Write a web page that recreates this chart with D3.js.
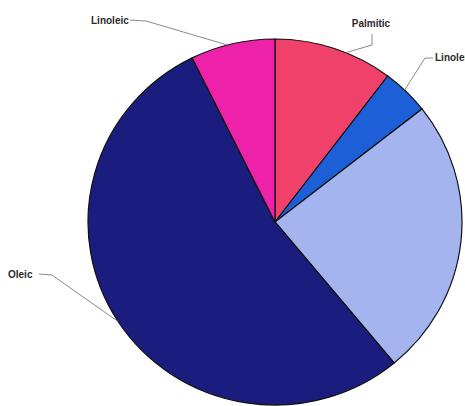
<!DOCTYPE html>
<html>
<head>
<meta charset="utf-8">
<script src="https://cdn.jsdelivr.net/npm/d3@7"></script>
<style>
  html, body { margin: 0; padding: 0; background: #ffffff; }
  svg { display: block; }
</style>
</head>
<body>
<svg id="chart" width="465" height="406"></svg>
<script>
// ---- data ----
const categories = ["Palmitic", "Linolenic", "Stearic", "Oleic", "Linoleic"];
const values = [10.3, 4.1, 24.6, 53.7, 7.3];
const labels = ["Palmitic", "Linolenic", null, "Oleic", "Linoleic"];
const colors = ["#ef4169", "#1d5fd6", "#a4b4ef", "#1b1d7e", "#ee22aa"];

// ---- layout ----
const cx = 275, cy = 222, rx = 187, ry = 183;
const svg = d3.select("#chart");

const pie = d3.pie().sort(null).value(d => d.value);
const data = categories.map((c, i) => ({ name: c, value: values[i], label: labels[i], color: colors[i] }));
const arcs = pie(data);
const arc = d3.arc().innerRadius(0).outerRadius(rx);

const g = svg.append("g")
  .attr("transform", `translate(${cx},${cy}) scale(1,${ry / rx})`);

g.selectAll("path.slice")
  .data(arcs)
  .enter().append("path")
  .attr("class", "slice")
  .attr("d", arc)
  .attr("fill", d => d.data.color)
  .attr("stroke", "#111")
  .attr("stroke-width", 1.2)
  .attr("vector-effect", "non-scaling-stroke");

// ---- leader lines and labels ----
const labelLayout = {
  "Linoleic":  { tx: 91,  ty: 20,  anchor: "start",  pts: [[130, 20], [146, 21]] },
  "Palmitic":  { tx: 371, ty: 23,  anchor: "middle", pts: [[372, 34], [372, 45]] },
  "Linolenic": { tx: 435, ty: 57,  anchor: "start",  pts: [[433, 58], [425, 58]] },
  "Oleic":     { tx: 8,   ty: 274, anchor: "start",  pts: [[39, 274], [52, 275]] }
};
// where on each slice's rim the leader touches (fraction of the slice's span)
const leaderFrac = { "Linoleic": 0.44, "Palmitic": 0.60, "Linolenic": 0.46, "Oleic": 0.50 };

const lab = svg.append("g");
arcs.forEach(a => {
  if (!a.data.label) return;
  const L = labelLayout[a.data.label];
  const f = leaderFrac[a.data.label];
  const ang = a.startAngle + (a.endAngle - a.startAngle) * f;
  const ex = cx + rx * Math.sin(ang);
  const ey = cy - ry * Math.cos(ang);
  const pts = L.pts.concat([[ex, ey]]);
  lab.append("path")
    .attr("d", d3.line()(pts))
    .attr("fill", "none")
    .attr("stroke", "#8a8a8a")
    .attr("stroke-width", 1);
  lab.append("text")
    .attr("x", L.tx)
    .attr("y", L.ty)
    .attr("dy", "0.35em")
    .attr("text-anchor", L.anchor)
    .attr("font-family", "Liberation Sans, Arial, sans-serif")
    .attr("font-size", "10px")
    .attr("font-weight", "bold")
    .attr("fill", "#2a2a2a")
    .text(a.data.label);
});
</script>
</body>
</html>
